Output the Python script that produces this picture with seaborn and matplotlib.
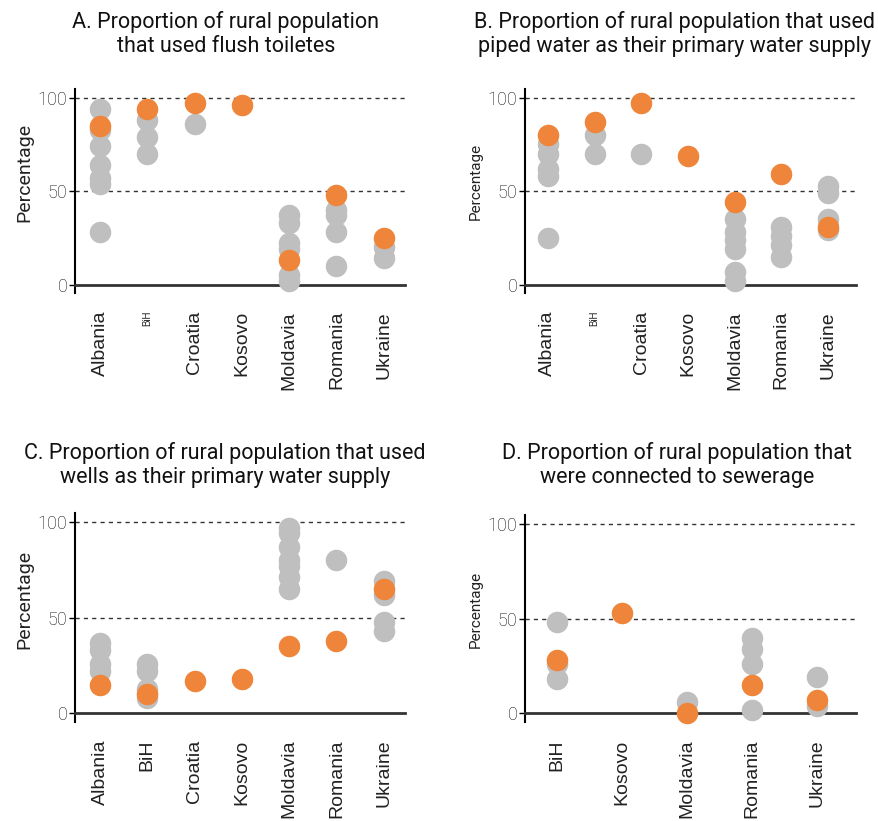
import numpy as np
import pandas as pd
import matplotlib
matplotlib.use('Agg')
import matplotlib.pyplot as plt
import seaborn as sns

# Colori
GRIGIO = '#BFBFBF'
ARANCIO = '#EE853A'

paesi = ['Albania', 'BiH', 'Croatia', 'Kosovo', 'Moldavia', 'Romania', 'Ukraine']
paesi_d = ['BiH', 'Kosovo', 'Moldavia', 'Romania', 'Ukraine']

# A. flush toilets
a_grigi = {'Albania': [94, 83, 74, 64, 57, 54, 28], 'BiH': [88, 79, 70], 'Croatia': [86],
           'Moldavia': [37, 33, 22, 19, 5, 2], 'Romania': [40, 37, 28, 10], 'Ukraine': [20, 14]}
a_arancio = {'Albania': [85], 'BiH': [94], 'Croatia': [97], 'Kosovo': [96],
             'Moldavia': [13], 'Romania': [48], 'Ukraine': [25]}

# B. piped water
b_grigi = {'Albania': [75, 70, 62, 58, 25], 'BiH': [80, 70], 'Croatia': [70],
           'Moldavia': [35, 28, 24, 19, 7, 2], 'Romania': [31, 26, 21, 15], 'Ukraine': [53, 49, 35, 29]}
b_arancio = {'Albania': [80], 'BiH': [87], 'Croatia': [97], 'Kosovo': [69],
             'Moldavia': [44], 'Romania': [59], 'Ukraine': [31]}

# C. wells
c_grigi = {'Albania': [37, 33, 26, 22], 'BiH': [26, 22, 13, 8],
           'Moldavia': [97, 94, 87, 80, 77, 71, 65], 'Romania': [80], 'Ukraine': [69, 62, 48, 43]}
c_arancio = {'Albania': [15], 'BiH': [10], 'Croatia': [17], 'Kosovo': [18],
             'Moldavia': [35], 'Romania': [38], 'Ukraine': [65]}

# D. sewerage
d_grigi = {'BiH': [48, 26, 18], 'Moldavia': [6], 'Romania': [40, 34, 26, 2], 'Ukraine': [19, 4]}
d_arancio = {'BiH': [28], 'Kosovo': [53], 'Moldavia': [0], 'Romania': [15], 'Ukraine': [7]}

titoli = ['A. Proportion of rural population\nthat used flush toiletes',
          'B. Proportion of rural population that used\npiped water as their primary water supply',
          'C. Proportion of rural population that used\nwells as their primary water supply',
          'D. Proportion of rural population that\nwere connected to sewerage']


def to_df(d):
    righe = [(p, v) for p, vals in d.items() for v in vals]
    return pd.DataFrame(righe, columns=['Paese', 'Valore'])


sns.set_style('white')
plt.rcParams['font.family'] = ['Roboto', 'DejaVu Sans']

fig = plt.figure(figsize=(8.79, 8.21), dpi=100)
W, H = 879, 821


def crea_ax(l, r, t, b):
    return fig.add_axes([l / W, 1 - b / H, (r - l) / W, (b - t) / H])


pannelli = [
    dict(ax=crea_ax(75, 405, 89, 293), grigi=a_grigi, arancio=a_arancio, order=paesi,
         xlim=(-0.53, 6.45), ylab=14, ylab_y=0.59, bih_small=True),
    dict(ax=crea_ax(525, 856, 89, 293), grigi=b_grigi, arancio=b_arancio, order=paesi,
         xlim=(-0.49, 6.6), ylab=11, ylab_y=0.545, bih_small=True),
    dict(ax=crea_ax(75, 405, 513, 722), grigi=c_grigi, arancio=c_arancio, order=paesi,
         xlim=(-0.53, 6.45), ylab=14, ylab_y=0.585, bih_small=False),
    dict(ax=crea_ax(525, 856, 515, 722), grigi=d_grigi, arancio=d_arancio, order=paesi_d,
         xlim=(-0.49, 4.6), ylab=11, ylab_y=0.545, bih_small=False),
]

for p in pannelli:
    ax = p['ax']
    sns.stripplot(data=to_df(p['grigi']), x='Paese', y='Valore', order=p['order'],
                  color=GRIGIO, jitter=False, size=15.5, linewidth=0, ax=ax, zorder=3)
    sns.stripplot(data=to_df(p['arancio']), x='Paese', y='Valore', order=p['order'],
                  color=ARANCIO, jitter=False, size=15.5, linewidth=0, ax=ax, zorder=4)
    for coll in ax.collections:
        coll.set_clip_on(False)

    for yv in [50, 100]:
        ax.axhline(yv, color='#333333', lw=1, ls=(0, (3, 3)), zorder=1)

    ax.set_ylim(-4.5, 104.7)
    ax.set_xlim(*p['xlim'])
    ax.set_yticks([0, 50, 100])
    ax.set_yticklabels(['0', '50', '100'], fontsize=13, fontweight='light', color='#111111')

    sns.despine(ax=ax)
    ax.spines['bottom'].set_position(('data', 0))
    ax.spines['bottom'].set_color('#333333')
    ax.spines['bottom'].set_linewidth(2)
    ax.spines['left'].set_color('black')
    ax.spines['left'].set_linewidth(1.5)

    ax.tick_params(axis='y', left=True, length=4.5, width=1, color='black', pad=1)
    ax.tick_params(axis='x', bottom=False, length=0, pad=19)

    for lab in ax.get_xticklabels():
        lab.set_rotation(90)
        lab.set_family(['Liberation Sans', 'DejaVu Sans'])
        lab.set_color('#222222')
        if p['bih_small'] and lab.get_text() == 'BiH':
            lab.set_fontsize(7)
        else:
            lab.set_fontsize(14)
        lab.set_va('top')
        lab.set_ha('center')

    ax.set_xlabel('')
    ax.set_ylabel('Percentage', fontsize=p['ylab'], color='#222222')
    ax.yaxis.set_label_coords(-0.127, p['ylab_y'])

# Titoli
for testo, (x, y) in zip(titoli, [(226, 34), (675, 34), (225, 465), (677, 465)]):
    fig.text(x / W, 1 - y / H, testo, ha='center', va='center', fontsize=15.5,
             linespacing=1.2, color='#111111')

fig.savefig('out.png', dpi=100)
